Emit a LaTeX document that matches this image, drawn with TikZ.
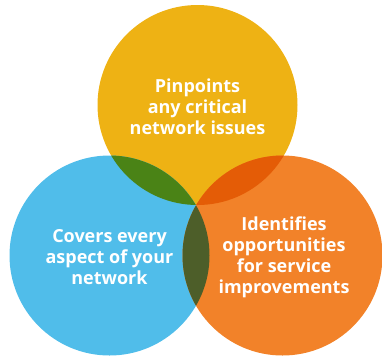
\documentclass[tikz,border=0pt]{standalone}
\usepackage{fontspec}
\setmainfont{Open Sans}

\definecolor{Venn-yellow}{RGB}{238,178,20}
\definecolor{Venn-blue}{RGB}{80,189,234}
\definecolor{Venn-orange}{RGB}{242,130,41}
\definecolor{Venn-green}{RGB}{74,131,22}
\definecolor{Venn-red}{RGB}{228,92,6}
\definecolor{Venn-olive}{RGB}{77,94,41}

\tikzset{
  venntext/.style={text=white, align=center, font=\bfseries\fontsize{18}{21}\selectfont}
}

\begin{document}
\begin{tikzpicture}[x=1pt, y=-1pt]
\useasboundingbox (0,0) rectangle (382,357);

\coordinate (top) at (197.5,105);
\coordinate (left) at (109.5,255.5);
\coordinate (right) at (282.5,255.5);

\fill[Venn-yellow] (top) circle (100pt);
\fill[Venn-blue] (left) circle (100pt);
\fill[Venn-orange] (right) circle (100pt);

% overlaps
\begin{scope}
  \clip (top) circle (100pt);
  \fill[Venn-green] (left) circle (100pt);
  \fill[Venn-red] (right) circle (100pt);
\end{scope}
\begin{scope}
  \clip (left) circle (100pt);
  \fill[Venn-olive] (right) circle (100pt);
\end{scope}

\node[venntext] (pinpoints) at (197.5,107) {Pinpoints\\any critical\\network issues};
\node[venntext] (covers) at (109.5,257) {Covers every\\aspect of your\\network};
\node[venntext] (identifies) at (284,257) {Identifies\\opportunities\\for service\\improvements};

\end{tikzpicture}
\end{document}
